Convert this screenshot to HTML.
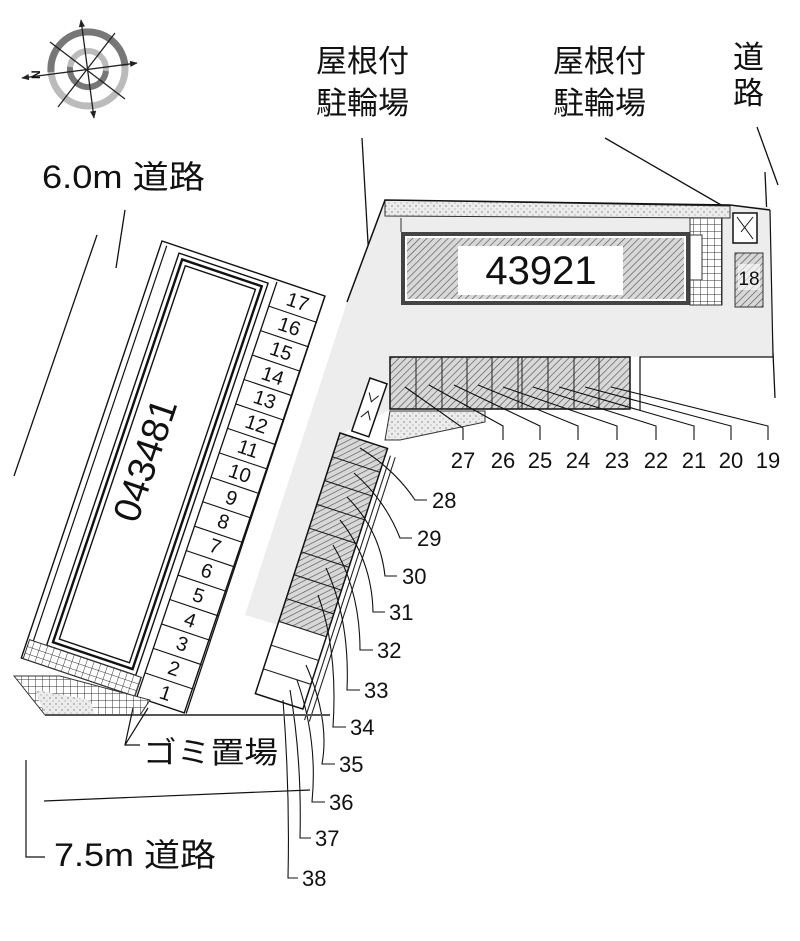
<!DOCTYPE html>
<html><head><meta charset="utf-8"><style>
html,body{margin:0;padding:0;background:#fff}
svg{display:block}
text{font-family:"Liberation Sans","Noto Sans CJK JP",sans-serif;fill:#111}
</style></head><body>
<svg width="800" height="941" viewBox="0 0 800 941" xmlns="http://www.w3.org/2000/svg">
<defs>
<pattern id="h" patternUnits="userSpaceOnUse" width="5" height="5" patternTransform="rotate(45)">
<rect width="5" height="5" fill="#d8d8d8"/><line x1="0" y1="0" x2="0" y2="5" stroke="#555" stroke-width="1.3"/></pattern>
<pattern id="d" patternUnits="userSpaceOnUse" width="6" height="6">
<rect width="6" height="6" fill="#ececec"/><circle cx="2" cy="2" r="0.7" fill="#777"/><circle cx="5" cy="5" r="0.6" fill="#999"/></pattern>
<pattern id="g" patternUnits="userSpaceOnUse" width="7" height="7">
<rect width="7" height="7" fill="#fff"/><path d="M0 0H7M0 0V7" stroke="#333" stroke-width="1"/></pattern>
<marker id="ar" viewBox="0 0 10 10" refX="9" refY="5" markerWidth="6" markerHeight="6" orient="auto-start-reverse"><path d="M0 1 L10 5 L0 9 Z" fill="#222"/></marker>
</defs>

<!-- compass -->
<g fill="none">
<circle cx="88" cy="69" r="37" stroke="#bbb" stroke-width="7"/>
<path d="M51 72 A37 37 0 0 1 125 66" stroke="#777" stroke-width="7"/>
<circle cx="88" cy="69" r="18" stroke="#bbb" stroke-width="6"/>
<path d="M106 71 A18 18 0 0 1 70 67" stroke="#777" stroke-width="6"/>
</g>
<g stroke="#222" stroke-width="1.3">
<line x1="81" y1="20" x2="94" y2="118" marker-start="url(#ar)" marker-end="url(#ar)"/>
<line x1="22" y1="78" x2="137" y2="63" marker-start="url(#ar)" marker-end="url(#ar)"/>
<line x1="50" y1="42" x2="125" y2="99"/>
<line x1="115" y1="33" x2="58" y2="107"/>
</g>
<text x="33" y="80" font-size="12" font-weight="bold" transform="rotate(-90 36 76)">N</text>

<!-- texts top -->
<text x="316" y="72" font-size="31">屋根付</text>
<text x="316" y="114" font-size="31">駐輪場</text>
<text x="553" y="72" font-size="31">屋根付</text>
<text x="553" y="114" font-size="31">駐輪場</text>
<text x="733" y="68" font-size="31">道</text>
<text x="733" y="104" font-size="31">路</text>
<text x="42" y="188" font-size="32" textLength="163" lengthAdjust="spacingAndGlyphs">6.0m 道路</text>

<g stroke="#111" stroke-width="1.3" fill="none">
<line x1="125" y1="210" x2="116" y2="268"/>
<line x1="97" y1="235" x2="14" y2="476"/>
<line x1="757" y1="127" x2="778" y2="185"/>
<line x1="765" y1="172" x2="775" y2="398"/>
<line x1="362" y1="138" x2="375" y2="365"/>
<line x1="605" y1="138" x2="735" y2="213"/>
</g>

<!-- gray ground -->
<polygon points="385,200 770,207 773,357 630,357 630,410 390,410 345,432 278,625 245,615 347,302" fill="#ededed"/>
<polygon points="385,200 730,206 730,218 385,216" fill="url(#d)" stroke="#333" stroke-width="1"/>
<polyline points="347,302 385,200 730,205 770,210" fill="none" stroke="#111" stroke-width="1.5"/>
<polyline points="770,210 773,357 640,357 640,410" fill="none" stroke="#111" stroke-width="1.2"/>
<line x1="401" y1="218" x2="401" y2="232" stroke="#333"/>

<!-- building 43921 -->
<rect x="401" y="232" width="289" height="73" fill="#444"/>
<rect x="405" y="236" width="281" height="65" fill="#fff"/>
<rect x="407" y="238" width="277" height="61" fill="url(#h)"/>
<rect x="458" y="246" width="165" height="49" fill="#fff"/>
<text x="541" y="284" font-size="40" text-anchor="middle">43921</text>
<rect x="690" y="218" width="32" height="87" fill="url(#g)" stroke="#333"/>
<rect x="690" y="235" width="12" height="45" fill="#fff" stroke="#333"/>
<rect x="733" y="213" width="24" height="30" fill="#fff" stroke="#111" stroke-width="1.5"/>
<path d="M737 217 L753 239 M753 217 L741 232" stroke="#111"/>
<rect x="735" y="253" width="28" height="54" fill="url(#h)" stroke="#333"/>
<rect x="738" y="264" width="22" height="26" fill="#fff" opacity="0.6"/>
<text x="749" y="285" font-size="19" text-anchor="middle">18</text>

<!-- slots 19-27 -->
<rect x="390" y="357" width="240" height="52" fill="url(#h)" stroke="#111" stroke-width="1.5"/>
<g stroke="#222" stroke-width="1">
<line x1="416" y1="357" x2="416" y2="409"/><line x1="442" y1="357" x2="442" y2="409"/>
<line x1="467" y1="357" x2="467" y2="409"/><line x1="492" y1="357" x2="492" y2="409"/>
<line x1="518" y1="357" x2="518" y2="409"/><line x1="522" y1="357" x2="522" y2="409"/>
<line x1="548" y1="357" x2="548" y2="409"/><line x1="574" y1="357" x2="574" y2="409"/>
<line x1="599" y1="357" x2="599" y2="409"/>
</g>
<polygon points="390,411 485,411 485,422 400,440 385,440" fill="url(#d)" stroke="#333"/>
<g stroke="#111" stroke-width="1.1" fill="none">
<path d="M405 387 L463 428 V440"/><path d="M429 385 L503 426 V440"/><path d="M454 385 L540 426 V440"/>
<path d="M478 385 L578 426 V440"/><path d="M503 387 L617 426 V440"/><path d="M533 387 L656 426 V440"/>
<path d="M559 387 L694 426 V440"/><path d="M585 387 L731 426 V440"/><path d="M611 387 L768 426 V440"/>
</g>
<g font-size="22" text-anchor="middle">
<text x="463" y="468">27</text><text x="503" y="468">26</text><text x="540" y="468">25</text>
<text x="578" y="468">24</text><text x="617" y="468">23</text><text x="656" y="468">22</text>
<text x="694" y="468">21</text><text x="731" y="468">20</text><text x="768" y="468">19</text>
</g>

<!-- bike shelter X -->
<g transform="translate(370,378) rotate(19)">
<rect x="0" y="0" width="18" height="56" fill="#fff" stroke="#111" stroke-width="1.5"/>
<path d="M4 14 L9 22 L14 14 M4 40 L9 32 L14 40" stroke="#111" fill="none"/>
</g>

<!-- slots 28-38 column -->
<g transform="translate(340,433) rotate(18)">
<rect x="0" y="0" width="50" height="198" fill="url(#h)"/>
<rect x="0" y="0" width="50" height="274" fill="none" stroke="#111" stroke-width="1.5"/>
<g stroke="#222" stroke-width="1.1">
<line x1="0" y1="25" x2="50" y2="25"/><line x1="0" y1="50" x2="50" y2="50"/><line x1="0" y1="75" x2="50" y2="75"/>
<line x1="0" y1="100" x2="50" y2="100"/><line x1="0" y1="125" x2="50" y2="125"/><line x1="0" y1="149" x2="50" y2="149"/>
<line x1="0" y1="174" x2="50" y2="174"/><line x1="0" y1="198" x2="50" y2="198"/><line x1="0" y1="223" x2="50" y2="223"/>
<line x1="0" y1="248" x2="50" y2="248"/>
<line x1="55" y1="6" x2="55" y2="284"/><line x1="60" y1="6" x2="60" y2="284"/>
</g>
</g>
<g stroke="#111" stroke-width="1.1" fill="none">
<path d="M360 448 Q395 470 415 500 H427"/>
<path d="M354 473 Q385 500 400 538 H412"/>
<path d="M347 497 Q380 530 385 576 H397"/>
<path d="M340 520 Q372 560 373 612 H385"/>
<path d="M333 545 Q360 590 360 650 H373"/>
<path d="M326 568 Q350 620 347 690 H360"/>
<path d="M318 595 Q338 650 333 727 H346"/>
<path d="M306 665 Q330 720 322 764 H335"/>
<path d="M297 680 Q318 740 312 802 H325"/>
<path d="M290 690 Q302 760 300 838 H311"/>
<path d="M283 700 Q290 790 288 878 H298"/>
</g>
<g font-size="22">
<text x="432" y="508">28</text><text x="417" y="546">29</text><text x="402" y="584">30</text>
<text x="389" y="620">31</text><text x="377" y="658">32</text><text x="364" y="698">33</text>
<text x="350" y="735">34</text><text x="339" y="772">35</text><text x="329" y="810">36</text>
<text x="315" y="846">37</text><text x="302" y="886">38</text>
</g>

<!-- left building group -->
<g transform="translate(162,241) rotate(18.65)">
<rect x="0" y="0" width="172" height="440" fill="none" stroke="#111" stroke-width="1.4"/>
<line x1="6" y1="3" x2="6" y2="438" stroke="#111" stroke-width="1.2"/>
<rect x="20" y="6" width="94" height="414" fill="none" stroke="#111" stroke-width="1.4"/>
<rect x="25" y="11" width="84" height="404" fill="none" stroke="#111" stroke-width="2.4"/>
<rect x="30" y="16" width="74" height="394" fill="#fff" stroke="#111" stroke-width="1.4"/>
<g stroke="#111" stroke-width="1.3">
<line x1="122" y1="2" x2="122" y2="440"/>
<line x1="172" y1="0" x2="174" y2="440"/>
</g>
<g stroke="#111" stroke-width="1.1">
<line x1="122" y1="27.6" x2="173" y2="27.6"/><line x1="122" y1="53.4" x2="173" y2="53.4"/>
<line x1="122" y1="79.2" x2="173" y2="79.2"/><line x1="122" y1="105" x2="173" y2="105"/>
<line x1="122" y1="130.8" x2="173" y2="130.8"/><line x1="122" y1="156.6" x2="173" y2="156.6"/>
<line x1="122" y1="182.4" x2="173" y2="182.4"/><line x1="122" y1="208.2" x2="173" y2="208.2"/>
<line x1="122" y1="234" x2="173" y2="234"/><line x1="122" y1="259.8" x2="173" y2="259.8"/>
<line x1="122" y1="285.6" x2="173" y2="285.6"/><line x1="122" y1="311.4" x2="173" y2="311.4"/>
<line x1="122" y1="337.2" x2="173" y2="337.2"/><line x1="122" y1="363" x2="173" y2="363"/>
<line x1="122" y1="388.8" x2="173" y2="388.8"/><line x1="122" y1="414.6" x2="173" y2="414.6"/>
</g>
<g font-size="20" text-anchor="middle">
<text x="148" y="21">17</text><text x="148" y="47">16</text><text x="148" y="73">15</text>
<text x="148" y="99">14</text><text x="148" y="124">13</text><text x="148" y="150">12</text>
<text x="148" y="176">11</text><text x="148" y="202">10</text><text x="148" y="228">9</text>
<text x="148" y="253">8</text><text x="148" y="279">7</text><text x="148" y="305">6</text>
<text x="148" y="331">5</text><text x="148" y="357">4</text><text x="148" y="382">3</text>
<text x="148" y="408">2</text><text x="148" y="434">1</text>
</g>
<rect x="2" y="420" width="118" height="20" fill="url(#g)" stroke="#333"/>
<text x="67" y="213" font-size="38" text-anchor="middle" transform="rotate(-90 67 213)">043481</text>
</g>
<polygon points="14,676 45,715 140,715 150,700 60,676" fill="url(#g)" stroke="#333"/>
<polygon points="35,690 45,715 95,715 90,700" fill="url(#d)"/>
<line x1="45" y1="715" x2="330" y2="715" stroke="#555" stroke-width="2"/>

<!-- gomi -->
<g stroke="#111" stroke-width="1.2" fill="none">
<path d="M133 708 L125 745 H140"/><line x1="148" y1="708" x2="125" y2="745"/>
<line x1="44" y1="801" x2="310" y2="790"/>
<path d="M26 760 V857 H45"/>
</g>
<text x="143" y="763" font-size="30" textLength="135" lengthAdjust="spacingAndGlyphs">ゴミ置場</text>
<text x="54" y="866" font-size="32" textLength="162" lengthAdjust="spacingAndGlyphs">7.5m 道路</text>
</svg>
</body></html>
